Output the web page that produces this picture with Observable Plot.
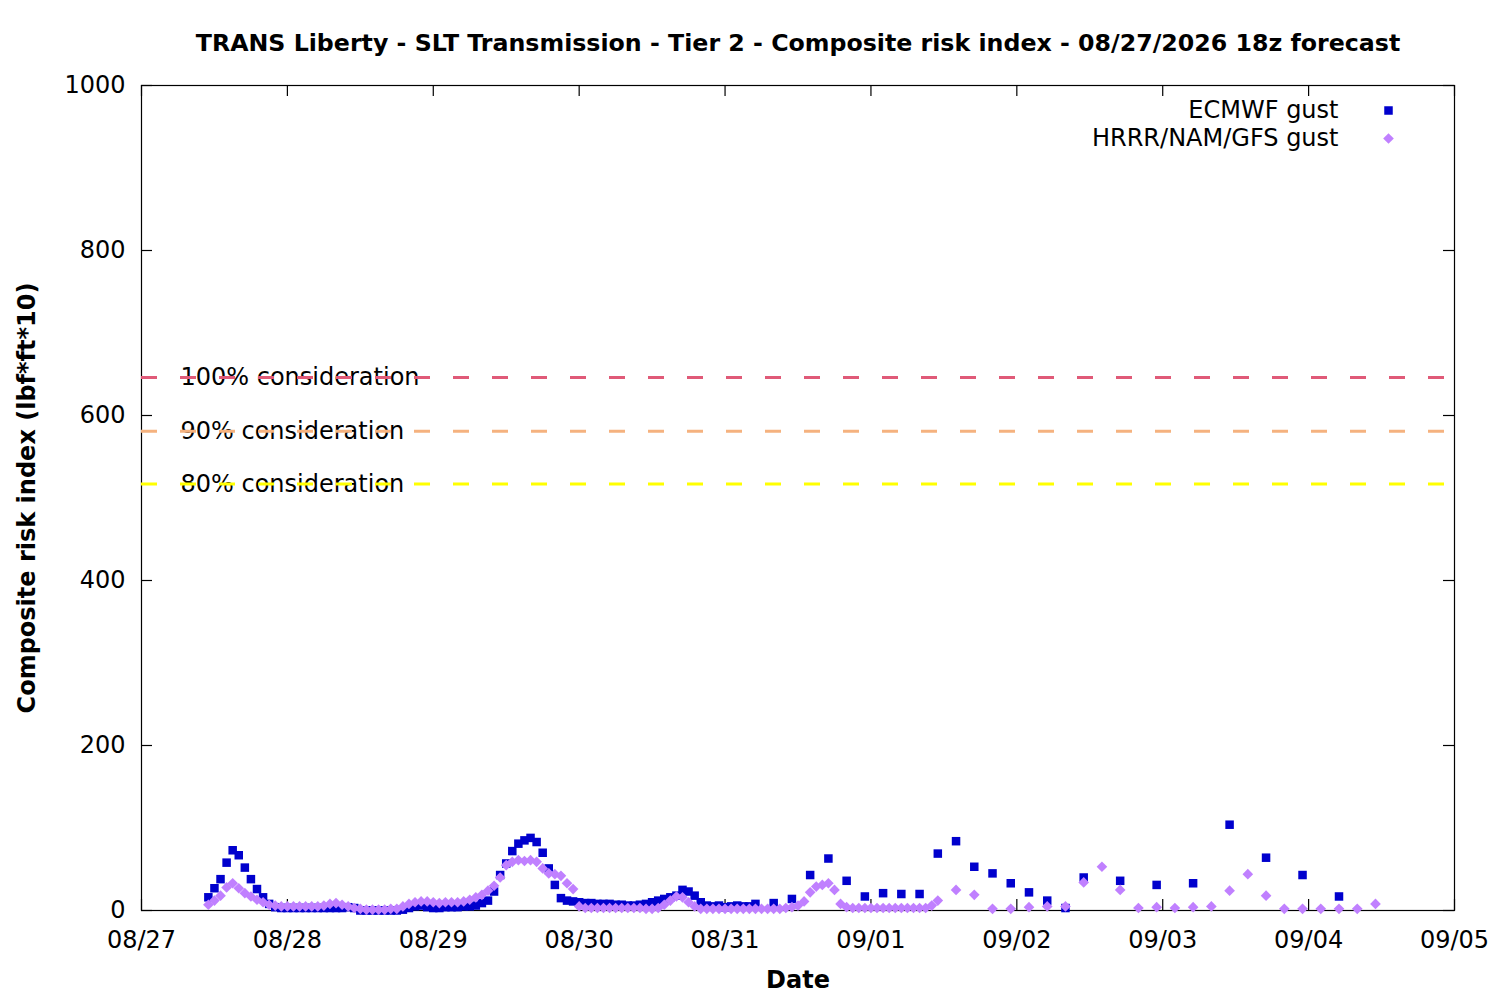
<!DOCTYPE html>
<html><head><meta charset="utf-8">
<script src="https://cdn.jsdelivr.net/npm/d3@7"></script>
<script src="https://cdn.jsdelivr.net/npm/@observablehq/plot@0.6"></script>
<style>body{margin:0;background:#fff;} #chart svg{display:block;}</style>
</head><body><div id="chart"></div>
<script>
// Hours since 08/27 00:00 (axis time)
const ecmwfHours = [
  11,12,13,14,15,16,17,18,19,20,21,
  22,23,24,25,26,27,28,29,30,31,32,33,
  34,35,36,37,38,39,40,41,42,43,44,45,46,47,48,49,50,51,52,53,54,55,56,57,
  58,59,60,61,62,63,64,65,66,67,68,69,70,71,72,73,74,75,76,77,78,79,80,81,
  82,83,84,85,86,87,88,89,90,91,92,93,94,95,96,97,98,99,100,101,
  104,107,110,113,116,119,122,125,128,131,134,137,140,143,146,149,152,155,
  161,167,173,179,185,191,197
];
const ecmwfValues = [
  16,27,38,58,73,67,52,38,26,16,8,
  4,3,3,3,3,3,3,3,3,3,3,3,
  4,3,0,0,0,0,0,0,0,1,3,5,6,4,3,3,4,4,4,5,5,6,9,12,
  23,43,57,72,81,85,88,83,70,51,31,15,12,11,10,9,9,8,8,8,7,7,6,6,
  7,8,10,12,14,16,18,25,23,18,10,6,5,6,4,5,6,5,5,8,
  9,14,43,63,36,17,21,20,20,69,84,53,45,33,22,12,3,40,
  36,31,33,104,64,43,17
];
const blendHours = [
  11,12,13,14,15,16,17,18,19,20,21,
  22,23,24,25,26,27,28,29,30,31,32,33,34,35,
  36,37,38,39,40,41,42,
  43,44,45,46,47,48,49,50,51,52,53,54,55,56,57,
  58,59,60,61,62,63,64,65,66,67,68,69,70,71,72,
  73,74,75,76,77,78,79,80,81,82,83,84,
  85,86,87,88,89,90,91,92,
  93,94,95,96,97,98,99,100,101,102,103,104,105,106,107,
  108,109,110,111,112,113,114,115,116,
  117,118,119,120,121,122,123,124,125,126,127,128,129,130,131,
  134,137,140,143,146,149,152,155,158,161,164,167,170,173,176,179,182,185,188,191,194,197,200,203
];
const blendValues = [
  7,12,18,28,33,27,21,17,13,10,7,
  6,5,5,5,5,5,5,5,6,8,9,7,5,3,
  2,1,1,1,1,2,2,
  5,8,10,11,11,10,9,10,10,10,11,13,16,19,24,
  30,40,55,59,61,60,61,59,51,45,44,42,33,26,5,
  3,3,3,3,3,3,3,3,3,3,2,2,
  3,7,12,17,16,10,5,2,
  2,2,2,2,2,2,2,2,2,2,2,2,2,3,4,
  6,11,22,29,31,33,25,8,4,
  3,3,3,3,3,3,3,3,3,3,3,3,3,6,12,
  25,19,2,2,4,5,5,34,53,25,3,4,3,4,5,24,44,18,2,2,2,2,2,8
];
const seriesNames = ["ECMWF gust", "HRRR/NAM/GFS gust"];
const seriesColors = ["#0000cd", "#c080ff"];
const thresholdLabels = ["100% consideration", "90% consideration", "80% consideration"];
const thresholdValues = [646, 581, 517];
const thresholdColors = ["#e05a78", "#f5b27f", "#ffff00"];
const dayTickLabels = ["2026-08-27","2026-08-28","2026-08-29","2026-08-30","2026-08-31","2026-09-01","2026-09-02","2026-09-03","2026-09-04","2026-09-05"];
const yTicks = [0, 200, 400, 600, 800, 1000];
const titleText = "TRANS Liberty - SLT Transmission - Tier 2 - Composite risk index - 08/27/2026 18z forecast";
const yLabel = "Composite risk index (lbf*ft*10)";
const xLabel = "Date";

const t0 = Date.UTC(2026, 7, 27);
const toDate = h => new Date(t0 + h * 3600000);
const ecmwf = ecmwfHours.map((h, i) => ({t: toDate(h), v: ecmwfValues[i]}));
const blend = blendHours.map((h, i) => ({t: toDate(h), v: blendValues[i]}));
const dayTicks = dayTickLabels.map(s => new Date(s + "T00:00:00Z"));
const thresholds = thresholdValues.map((v, i) => ({v, label: thresholdLabels[i], color: thresholdColors[i]}));

const W = 1500, H = 1000;
const mL = 141, mR = 46, mT = 85, mB = 90;
const fw = W - mL - mR, fh = H - mT - mB;
const tick = 11;
const FS = 24;

const chart = Plot.plot({
  width: W, height: H,
  marginLeft: mL, marginRight: mR, marginTop: mT, marginBottom: mB,
  style: {fontFamily: "DejaVu Sans", fontSize: FS + "px", color: "black", background: "white"},
  x: {type: "utc", domain: [dayTicks[0], dayTicks[dayTicks.length - 1]]},
  y: {domain: [0, 1000]},
  marks: [
    Plot.gridX(dayTicks, {insetTop: fh - tick, stroke: "black", strokeOpacity: 1, strokeWidth: 1.2}),
    Plot.gridX(dayTicks, {insetBottom: fh - tick, stroke: "black", strokeOpacity: 1, strokeWidth: 1.2}),
    Plot.gridY(yTicks, {insetRight: fw - tick, stroke: "black", strokeOpacity: 1, strokeWidth: 1.2}),
    Plot.gridY(yTicks, {insetLeft: fw - tick, stroke: "black", strokeOpacity: 1, strokeWidth: 1.2}),
    Plot.axisX(dayTicks, {tickSize: 0, tickPadding: 20, tickFormat: d3.utcFormat("%m/%d"), label: null, fontSize: FS}),
    Plot.axisY(yTicks, {tickSize: 0, tickPadding: 16, tickFormat: d3.format("d"), label: null, fontSize: FS}),
    Plot.frame({stroke: "black", strokeWidth: 1.2}),
    Plot.text(thresholds, {y: "v", text: "label", frameAnchor: "left", dx: 39, textAnchor: "start", lineAnchor: "middle", fill: "black", fontSize: FS}),
    Plot.ruleY(thresholds, {y: "v", stroke: "color", strokeWidth: 3, strokeDasharray: "16,23"}),
    Plot.dot(ecmwf, {x: "t", y: "v", symbol: "square", r: 4.8, fill: seriesColors[0], stroke: "none"}),
    Plot.dot(blend, {x: "t", y: "v", symbol: "diamond2", r: 4.8, fill: seriesColors[1], stroke: "none"}),
    Plot.text([seriesNames[0]], {frameAnchor: "top-right", dx: -116, dy: 25, textAnchor: "end", lineAnchor: "middle", fill: "black", fontSize: FS}),
    Plot.text([seriesNames[1]], {frameAnchor: "top-right", dx: -116, dy: 53, textAnchor: "end", lineAnchor: "middle", fill: "black", fontSize: FS}),
    Plot.dot([seriesNames[0]], {frameAnchor: "top-right", dx: -66, dy: 25, symbol: "square", r: 4.8, fill: seriesColors[0], stroke: "none"}),
    Plot.dot([seriesNames[1]], {frameAnchor: "top-right", dx: -66, dy: 53, symbol: "diamond2", r: 4.8, fill: seriesColors[1], stroke: "none"}),
    Plot.text([titleText], {frameAnchor: "top", dy: -42, lineAnchor: "middle", fontWeight: "bold", fontSize: 23.7, fill: "black"}),
    Plot.text([yLabel], {frameAnchor: "left", dx: -114, rotate: -90, textAnchor: "middle", lineAnchor: "middle", fontWeight: "bold", fontSize: FS, fill: "black"}),
    Plot.text([xLabel], {frameAnchor: "bottom", dy: 70, lineAnchor: "middle", fontWeight: "bold", fontSize: FS, fill: "black"})
  ]
});
document.getElementById("chart").appendChild(chart);
</script>
</body></html>
